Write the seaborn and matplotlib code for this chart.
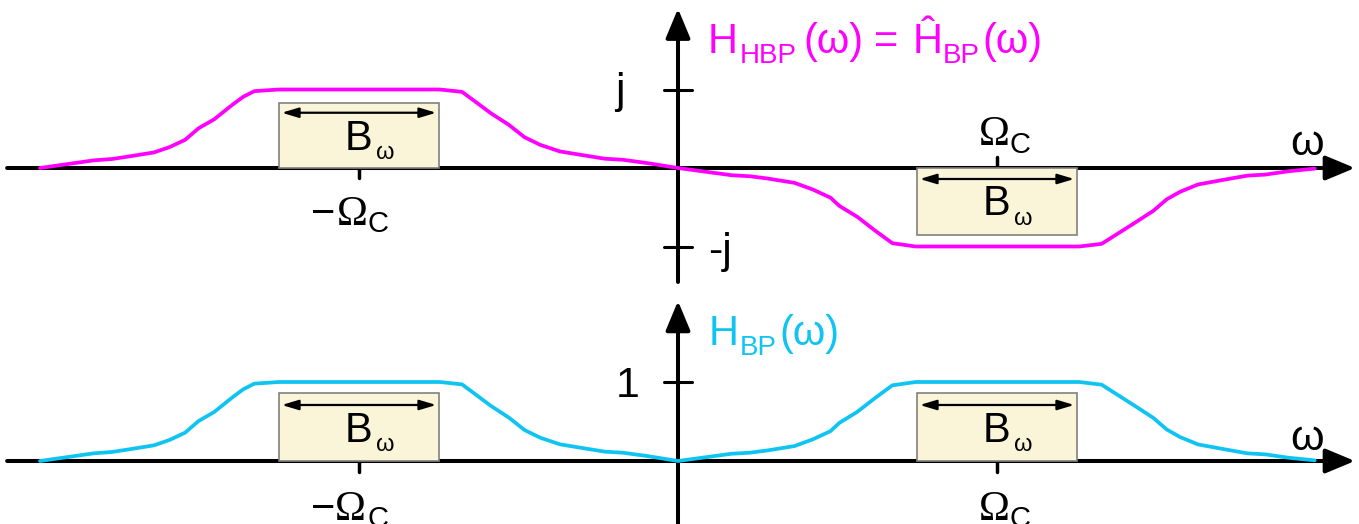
import matplotlib
matplotlib.use("Agg")
import matplotlib.pyplot as plt
from matplotlib.patches import Rectangle
import pandas as pd
import seaborn as sns

# Frequency axis in units of the centre frequency Omega_C
omega = [-2.000, -1.832, -1.775, -1.720, -1.643, -1.594, -1.545, -1.503, -1.454,
         -1.398, -1.363, -1.328, -1.251, -0.747, -0.677, -0.628, -0.586, -0.530,
         -0.481, -0.432, -0.370, -0.307, -0.229, -0.173, -0.097, 0.000,
         0.168, 0.225, 0.281, 0.365, 0.422, 0.478, 0.506, 0.562, 0.618, 0.672,
         0.745, 1.258, 1.328, 1.377, 1.434, 1.490, 1.532, 1.574, 1.630, 1.715,
         1.785, 1.841, 1.912, 1.996]

# Band-pass magnitude H_BP(omega)
h_bp = [0.000, 0.097, 0.114, 0.148, 0.198, 0.266, 0.359, 0.506, 0.620,
        0.802, 0.907, 0.979, 1.000, 1.000, 0.970, 0.823, 0.696, 0.549,
        0.392, 0.295, 0.211, 0.169, 0.118, 0.105, 0.063, 0.000,
        0.092, 0.105, 0.134, 0.189, 0.273, 0.378, 0.483, 0.622, 0.798, 0.958,
        1.000, 1.000, 0.966, 0.840, 0.693, 0.546, 0.399, 0.303, 0.210, 0.147,
        0.097, 0.084, 0.042, 0.008]

# Hilbert band-pass H_HBP(omega) (imaginary part, in units of j)
h_hbp = [0.000, 0.097, 0.114, 0.148, 0.198, 0.266, 0.359, 0.506, 0.620,
         0.802, 0.907, 0.979, 1.000, 1.000, 0.970, 0.823, 0.696, 0.549,
         0.392, 0.295, 0.211, 0.169, 0.118, 0.105, 0.063, 0.000,
         -0.092, -0.105, -0.134, -0.189, -0.273, -0.378, -0.483, -0.622, -0.798, -0.958,
         -1.000, -1.000, -0.966, -0.840, -0.693, -0.546, -0.399, -0.303, -0.210, -0.147,
         -0.097, -0.084, -0.042, -0.008]

band_centres = [-1.0, 1.0]
band_width = 0.5

MAGENTA = "#FF00FF"
CYAN = "#10C4F2"
BOX_FACE = "#FAF4D8"
BOX_EDGE = "#808080"
SANS = "Liberation Sans"
SERIF = "Liberation Serif"

sns.set_theme(style="white")
plt.rcParams["font.family"] = [SANS, "DejaVu Sans"]
plt.rcParams["text.color"] = "black"

W, H = 1359, 524
fig = plt.figure(figsize=(W / 100, H / 100), dpi=100)
ax_top = fig.add_axes([0, 1 - 284 / H, 1, 284 / H])
ax_bot = fig.add_axes([0, 0, 1, 240 / H])

xlim = (-678 / 319, 681 / 319)
top_ylim = (-116 / 78.5, 168 / 78.5)
bot_ylim = (-63 / 79, 177 / 79)

df = pd.DataFrame({"omega": omega, "h_bp": h_bp, "h_hbp": h_hbp})


def axis_arrow(ax, start, end):
    ax.annotate("", xy=end, xytext=start, xycoords="data", annotation_clip=False,
                arrowprops=dict(arrowstyle="-|>,head_length=1.2,head_width=0.5",
                                mutation_scale=15, lw=2.9, color="black",
                                shrinkA=0, shrinkB=0), zorder=2)


def band_box(ax, centre, height, arrow_y, b_base, w_base):
    left = centre - band_width / 2
    ax.add_patch(Rectangle((left, 0), band_width, height, facecolor=BOX_FACE,
                           edgecolor=BOX_EDGE, lw=1.2, zorder=3))
    ax.annotate("", xy=(left + band_width - 0.008, arrow_y), xytext=(left + 0.008, arrow_y),
                xycoords="data",
                arrowprops=dict(arrowstyle="<|-|>,head_length=1.0,head_width=0.3",
                                mutation_scale=10, lw=1.6, color="black",
                                shrinkA=0, shrinkB=0), zorder=4)
    ax.text(centre, b_base, "B", ha="center", va="baseline", fontsize=30,
            family=SANS, zorder=5)
    ax.text(centre + 0.052, w_base, "ω", ha="left", va="baseline", fontsize=17,
            family=SANS, zorder=5)


def omega_c_label(ax, x_omega, x_c, base_omega, base_c, minus_x=None):
    if minus_x is not None:
        ax.text(minus_x, base_omega, "\u2212", ha="left", va="baseline",
                fontsize=30, family=SANS)
    ax.text(x_omega, base_omega, "Ω", ha="left", va="baseline", fontsize=30,
            family=SERIF)
    ax.text(x_c, base_c, "C", ha="left", va="baseline", fontsize=21, family=SANS)


for ax in (ax_top, ax_bot):
    ax.axis("off")

# ---- upper panel: Hilbert band-pass ----
axis_arrow(ax_top, (-2.103, 0), (2.122, 0))
axis_arrow(ax_top, (0, -1.452), (0, 2.03))
for yv in (1, -1):
    ax_top.plot([-0.044, 0.044], [yv, yv], color="black", lw=2.2, zorder=2)
ax_top.plot([-1.0, -1.0], [0, -0.13], color="black", lw=2.5, zorder=2)
ax_top.plot([1.0, 1.0], [0, 0.14], color="black", lw=2.5, zorder=2)

sns.lineplot(data=df, x="omega", y="h_hbp", ax=ax_top, color=MAGENTA, lw=2.7,
             estimator=None, sort=False, legend=False, zorder=6)
ax_top.set_xlabel("")
ax_top.set_ylabel("")

band_box(ax_top, band_centres[0], 0.83, 0.704, 0.229, 0.115)
band_box(ax_top, band_centres[1], -0.85, -0.14, -0.60, -0.726)

ax_top.text(-0.166, 0.83, "j", ha="right", va="baseline", fontsize=31)
ax_top.text(0.094, -1.21, "-j", ha="left", va="baseline", fontsize=31)
ax_top.text(1.972, 0.166, "ω", ha="center", va="baseline", fontsize=31)
omega_c_label(ax_top, -1.069, -0.972, -0.726, -0.815, minus_x=-1.15)
omega_c_label(ax_top, 0.942, 1.04, 0.293, 0.19)

# title pieces
ax_top.text(0.094, 1.465, "H", ha="left", va="baseline", fontsize=30, color=MAGENTA)
ax_top.text(0.194, 1.338, "HBP", ha="left", va="baseline", fontsize=20, color=MAGENTA)
ax_top.text(0.392, 1.465, "(ω)", ha="left", va="baseline", fontsize=30, color=MAGENTA)
ax_top.text(0.614, 1.465, "=", ha="left", va="baseline", fontsize=30, color=MAGENTA)
ax_top.text(0.737, 1.465, "Ĥ", ha="left", va="baseline", fontsize=30, color=MAGENTA)
ax_top.text(0.831, 1.338, "BP", ha="left", va="baseline", fontsize=20, color=MAGENTA)
ax_top.text(0.953, 1.465, "(ω)", ha="left", va="baseline", fontsize=30, color=MAGENTA)

# ---- lower panel: band-pass ----
axis_arrow(ax_bot, (-2.103, 0), (2.122, 0))
axis_arrow(ax_bot, (0, -0.8), (0, 2.025))
ax_bot.plot([-0.044, 0.044], [1, 1], color="black", lw=2.2, zorder=2)
for xc in band_centres:
    ax_bot.plot([xc, xc], [0, -0.14], color="black", lw=2.5, zorder=2)

sns.lineplot(data=df, x="omega", y="h_bp", ax=ax_bot, color=CYAN, lw=2.7,
             estimator=None, sort=False, legend=False, zorder=6)
ax_bot.set_xlabel("")
ax_bot.set_ylabel("")

for xc in band_centres:
    band_box(ax_bot, xc, 0.86, 0.709, 0.245, 0.127)

ax_bot.text(-0.119, 0.81, "1", ha="right", va="baseline", fontsize=31)
ax_bot.text(1.972, 0.14, "ω", ha="center", va="baseline", fontsize=31)
omega_c_label(ax_bot, -1.075, -0.972, -0.747, -0.835, minus_x=-1.15)
omega_c_label(ax_bot, 0.942, 1.04, -0.747, -0.835)

ax_bot.text(0.097, 1.468, "H", ha="left", va="baseline", fontsize=30, color=CYAN)
ax_bot.text(0.194, 1.342, "BP", ha="left", va="baseline", fontsize=20, color=CYAN)
ax_bot.text(0.317, 1.468, "(ω)", ha="left", va="baseline", fontsize=30, color=CYAN)

for ax, yl in ((ax_top, top_ylim), (ax_bot, bot_ylim)):
    ax.set_xlim(*xlim)
    ax.set_ylim(*yl)

fig.savefig("out.png", dpi=100)
